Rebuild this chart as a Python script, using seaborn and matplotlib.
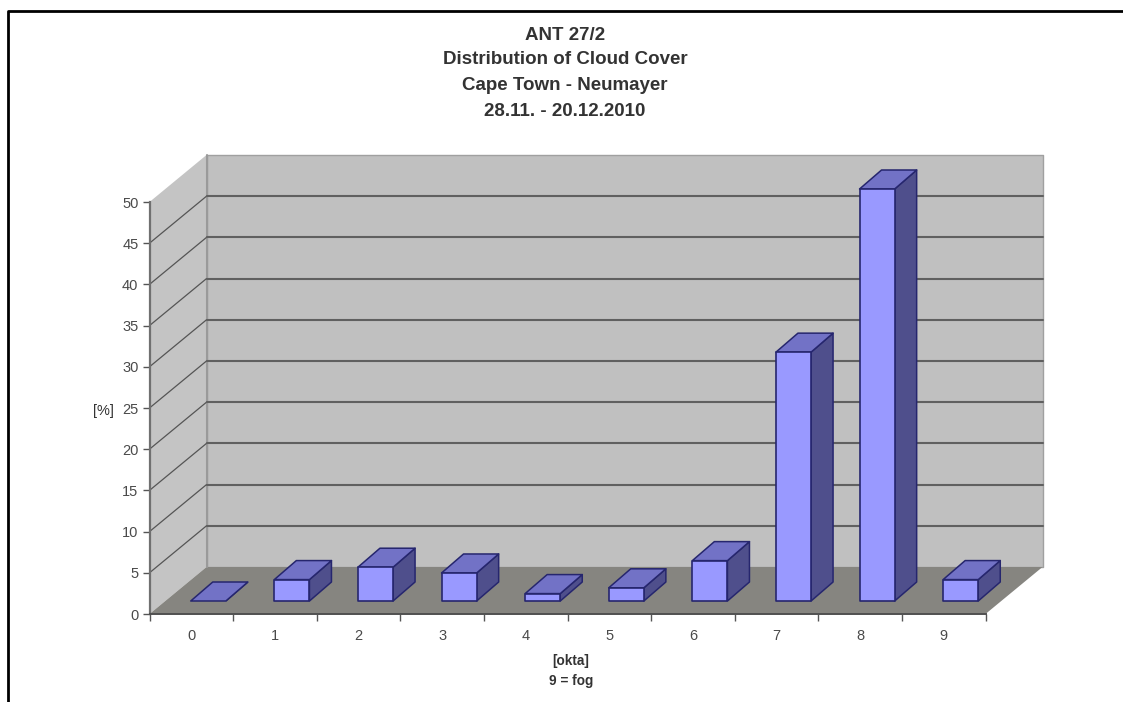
import matplotlib
matplotlib.use("Agg")
import matplotlib.pyplot as plt
import pandas as pd
import seaborn as sns
from matplotlib.lines import Line2D
from matplotlib.patches import Polygon
from matplotlib.transforms import IdentityTransform

# data
okta = ["0", "1", "2", "3", "4", "5", "6", "7", "8", "9"]
percent = [0.0, 2.6, 4.1, 3.4, 0.9, 1.6, 4.9, 30.2, 50.0, 2.6]
y_ticks = [0, 5, 10, 15, 20, 25, 30, 35, 40, 45, 50]
title_lines = ["ANT 27/2", "Distribution of Cloud Cover", "Cape Town - Neumayer", "28.11. - 20.12.2010"]

W, H = 1123, 702
WALL_DX, WALL_DY = 57, 47     # depth of the chart box, px
BAR_DX, BAR_DY = 17, 13       # bar front face, offset from the front plane
BAR_DEPTH_X, BAR_DEPTH_Y = 22, 19

sns.set_theme(style="white")
plt.rcParams["font.family"] = ["Liberation Sans", "DejaVu Sans"]
TEXT = "#4a4a4a"
EDGE = "#26266e"

fig = plt.figure(figsize=(W / 100, H / 100), dpi=100)
ax = fig.add_axes([149.5 / W, (H - 614) / H, 836 / W, 412 / H])
ax.patch.set_visible(False)

df = pd.DataFrame({"okta": okta, "percent": percent})
sns.barplot(data=df, x="okta", y="percent", color="#9999ff", saturation=1,
            width=0.42, edgecolor=EDGE, linewidth=1.2, ax=ax, zorder=5)
ax.set_xlim(-0.5, 9.5)
ax.set_ylim(0, 50)


def to_px(x, y):
    return ax.transData.transform((x, y))


def poly(points, face, edge="none", lw=0, z=1):
    ax.add_patch(Polygon(points, closed=True, facecolor=face, edgecolor=edge, linewidth=lw,
                         joinstyle="round", transform=IdentityTransform(), clip_on=False, zorder=z))


def line(p, q, color, lw, z=2):
    ax.add_line(Line2D([p[0], q[0]], [p[1], q[1]], color=color, linewidth=lw,
                       transform=IdentityTransform(), clip_on=False, zorder=z))


def back(p):
    return (p[0] + WALL_DX, p[1] + WALL_DY)


# walls and floor
fl, fr = to_px(-0.5, 0), to_px(9.5, 0)
tl, tr = to_px(-0.5, 50), to_px(9.5, 50)
poly([back(fl), back(fr), back(tr), back(tl)], "#c0c0c0", "#a0a0a0", 1.0, z=1)
poly([fl, back(fl), back(tl), tl], "#c4c4c4", z=1)
poly([fl, fr, back(fr), back(fl)], "#868580", z=2)
line(back(fl), back(tl), "#9a9a9a", 1.5, z=2)

# grid lines run along the side wall and then the back wall
for val in y_ticks[1:-1]:
    p, q = to_px(-0.5, val), to_px(9.5, val)
    line(p, back(p), "#555555", 0.9, z=3)
    line(back(p), back(q), "#606060", 1.5, z=3)

# turn every flat bar into a box
for bar in ax.containers[0]:
    x0, x1 = bar.get_x(), bar.get_x() + bar.get_width()
    top = bar.get_height()
    a = to_px(x0, 0) + (BAR_DX, BAR_DY)
    b = to_px(x1, 0) + (BAR_DX, BAR_DY)
    c = to_px(x1, top) + (BAR_DX, BAR_DY)
    d = to_px(x0, top) + (BAR_DX, BAR_DY)
    dep = (BAR_DEPTH_X, BAR_DEPTH_Y)
    bar.set_visible(False)
    poly([b, b + dep, c + dep, c], "#4f4f8c", EDGE, 1.1, z=6)
    poly([d, c, c + dep, d + dep], "#7272c6", EDGE, 1.1, z=6)
    if top > 0:
        poly([a, b, c, d], "#9999ff", EDGE, 1.2, z=7)

# axes and ticks
for name in ["top", "right"]:
    ax.spines[name].set_visible(False)
ax.spines["left"].set_visible(True)
ax.spines["left"].set_color("#707070")
ax.spines["left"].set_linewidth(1.6)
ax.spines["left"].set_zorder(4)
ax.spines["bottom"].set_visible(True)
ax.spines["bottom"].set_color("#505050")
ax.spines["bottom"].set_linewidth(1.4)
ax.spines["bottom"].set_zorder(4)

ax.set_yticks(y_ticks)
ax.set_xticks([i - 0.5 for i in range(len(okta) + 1)])
ax.set_xticklabels([])
ax.set_xticks(range(len(okta)), labels=okta, minor=True)
ax.tick_params(axis="x", which="major", length=5, width=1, color="#555555", bottom=True)
ax.tick_params(axis="x", which="minor", length=0, pad=11, labelsize=10.5, labelcolor=TEXT, bottom=False)
ax.tick_params(axis="y", length=5, width=1, color="#555555", pad=3, labelsize=10.5, labelcolor=TEXT, left=True)

ax.set_ylabel("[%]", rotation=0, fontsize=10.5, color="#333333", va="center", ha="center")
ax.yaxis.set_label_coords((103 - 149.5) / 836, (614 - 411) / 412)
ax.set_xlabel("[okta]\n9 = fog", fontsize=9.8, color="#333333", fontweight="bold", linespacing=1.55, va="top")
ax.xaxis.set_label_coords((571 - 149.5) / 836, (614 - 654) / 412)

title_y = [35, 59, 85, 110]
for text, y_px in zip(title_lines, title_y):
    fig.text(565 / W, 1 - (y_px + 1) / H, text, ha="center", va="center",
             fontsize=13.5, fontweight="bold", color="#333333")

# frame of the screenshot, open at the bottom and on the right
fig.add_artist(Line2D([8 / W, 8 / W, 1], [0, 1 - 10.5 / H, 1 - 10.5 / H],
                      color="black", linewidth=2.0, transform=fig.transFigure))

fig.savefig("out.png", dpi=100)
